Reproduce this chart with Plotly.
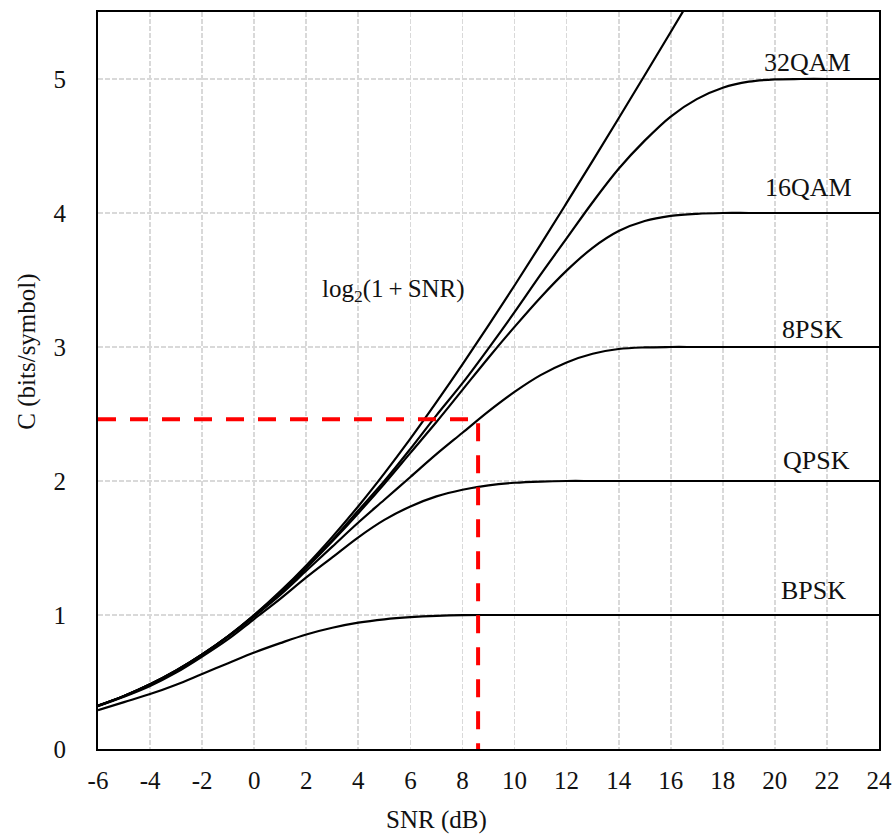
import plotly.graph_objects as go

# ---------------- data ----------------
snr_db = [-6, -5, -4, -3, -2, -1, 0, 1, 2, 3, 4, 5, 6, 7, 8, 9, 10, 11, 12,
          13, 14, 15, 16, 17, 18, 19, 20, 21, 22, 23, 24]

bpsk = [0.29, 0.35, 0.41, 0.48, 0.56, 0.64, 0.72, 0.79, 0.855, 0.905, 0.943, 0.968,
        0.984, 0.994, 0.999, 1.0, 1.0, 1.0, 1.0, 1.0, 1.0, 1.0, 1.0, 1.0, 1.0,
        1.0, 1.0, 1.0, 1.0, 1.0, 1.0]
qpsk = [0.32, 0.39, 0.47, 0.57, 0.69, 0.82, 0.97, 1.12, 1.28, 1.43, 1.58, 1.71,
        1.81, 1.885, 1.935, 1.968, 1.987, 1.996, 2.0, 2.0, 2.0, 2.0, 2.0, 2.0, 2.0,
        2.0, 2.0, 2.0, 2.0, 2.0, 2.0]
psk8 = [0.323, 0.395, 0.48, 0.58, 0.70, 0.84, 0.99, 1.15, 1.33, 1.51, 1.69, 1.86,
        2.03, 2.20, 2.36, 2.52, 2.665, 2.79, 2.885, 2.95, 2.985, 2.997, 3.0, 3.0, 3.0,
        3.0, 3.0, 3.0, 3.0, 3.0, 3.0]
qam16 = [0.323, 0.396, 0.483, 0.585, 0.705, 0.84, 0.99, 1.165, 1.35, 1.55, 1.76,
         1.98, 2.21, 2.44, 2.68, 2.92, 3.15, 3.37, 3.57, 3.74, 3.865, 3.94, 3.978,
         3.994, 4.0, 4.0, 4.0, 4.0, 4.0, 4.0, 4.0]
qam32 = [0.323, 0.396, 0.483, 0.586, 0.706, 0.843, 1.0, 1.17, 1.36, 1.56, 1.78,
         2.0, 2.24, 2.49, 2.73, 2.99, 3.26, 3.54, 3.81, 4.08, 4.33, 4.54, 4.72,
         4.85, 4.935, 4.98, 4.997, 5.0, 5.0, 5.0, 5.0]

shannon_db = [-6, -5, -4, -3, -2, -1, 0, 1, 2, 3, 4, 5, 6, 7, 8, 9, 10, 11, 12,
              13, 14, 15, 16, 17]
shannon = [0.323, 0.396, 0.483, 0.586, 0.706, 0.843, 1.0, 1.176, 1.370, 1.583,
           1.812, 2.057, 2.316, 2.588, 2.870, 3.161, 3.459, 3.764, 4.075, 4.389,
           4.707, 5.028, 5.351, 5.676]

marker_x = [-6, 8.6, 8.6]
marker_y = [2.46, 2.46, 0]

series_names = ["BPSK", "QPSK", "8PSK", "16QAM", "32QAM"]
series_vals = [bpsk, qpsk, psk8, qam16, qam32]
x_ticks = [-6, -4, -2, 0, 2, 4, 6, 8, 10, 12, 14, 16, 18, 20, 22, 24]
y_ticks = [0, 1, 2, 3, 4, 5]

SERIF = "Liberation Serif, Times New Roman, serif"
TXT = "#111111"

fig = go.Figure()

curve_line = dict(color="black", width=2.2, shape="spline", smoothing=1.0)
fig.add_trace(go.Scatter(x=shannon_db, y=shannon, mode="lines", line=curve_line,
                         showlegend=False, name="log2(1+SNR)"))
for name, vals in zip(series_names, series_vals):
    fig.add_trace(go.Scatter(x=snr_db, y=vals, mode="lines", line=curve_line,
                             showlegend=False, name=name))

fig.add_trace(go.Scatter(x=marker_x, y=marker_y, mode="lines",
                         line=dict(color="#ff0000", width=4, dash="18px,14px"),
                         showlegend=False, name="marker"))

# curve labels (data coordinates)
label_pos = {"32QAM": (21.27, 5.125), "16QAM": (21.3, 4.19), "8PSK": (21.46, 3.13),
             "QPSK": (21.58, 2.15), "BPSK": (21.5, 1.18)}
annotations = []
for txt, (lx, ly) in label_pos.items():
    annotations.append(dict(x=lx, y=ly, xref="x", yref="y", text=txt, showarrow=False,
                            font=dict(family=SERIF, size=26, color=TXT),
                            xanchor="center", yanchor="middle"))

annotations.append(dict(x=5.36, y=3.42, xref="x", yref="y", showarrow=False,
                        text="log<sub>2</sub>(1\u2009+\u2009SNR)",
                        font=dict(family=SERIF, size=25, color=TXT),
                        xanchor="center", yanchor="middle"))

# axis titles
annotations.append(dict(x=-0.091, y=0.539, xref="paper", yref="paper", showarrow=False,
                        text="C (bits/symbol)", textangle=-90,
                        font=dict(family=SERIF, size=25, color=TXT),
                        xanchor="center", yanchor="middle"))
annotations.append(dict(x=0.434, y=-0.096, xref="paper", yref="paper", showarrow=False,
                        text="SNR (dB)",
                        font=dict(family=SERIF, size=25, color=TXT),
                        xanchor="center", yanchor="middle"))

grid = dict(showgrid=True, gridcolor="#d9d9d9", gridwidth=1.8, griddash="5px,2px",
            zeroline=False, showline=True, linecolor="black", linewidth=2, mirror=True,
            ticks="", tickfont=dict(family=SERIF, size=25, color=TXT))

fig.update_layout(
    width=895, height=835,
    margin=dict(l=98, r=16, t=12, b=86, autoexpand=False),
    paper_bgcolor="white", plot_bgcolor="white",
    annotations=annotations,
    xaxis=dict(range=[-6, 24], tickvals=x_ticks, ticktext=[str(v) for v in x_ticks],
               ticklabelstandoff=8, **grid),
    yaxis=dict(range=[0, 5.5], tickvals=y_ticks, ticktext=[str(v) for v in y_ticks],
               ticklabelstandoff=25, **grid),
)

# remove the page's default 8px body margin so the 895x835 figure fills the window
fig.write_html("out.html",
               config={"displayModeBar": False, "staticPlot": True},
               post_script="document.body.style.margin='0';document.body.style.overflow='hidden';")
